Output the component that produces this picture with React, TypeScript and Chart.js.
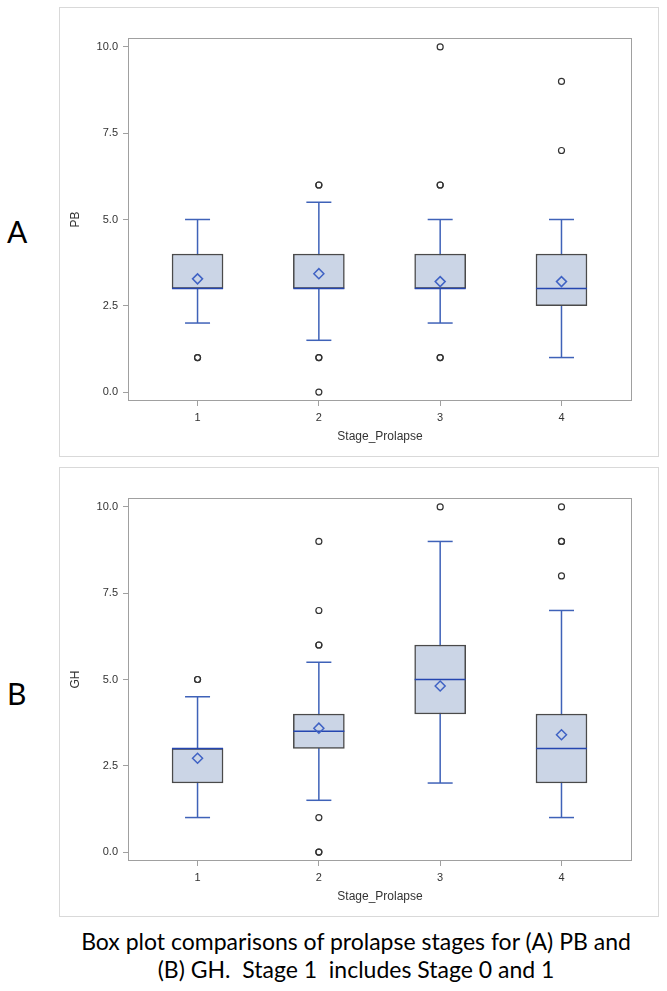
import React, { useEffect, useRef } from "react";
import { Chart, registerables } from "chart.js";

Chart.register(...registerables);

// ---- data ----
const STAGES = [1, 2, 3, 4];
const Y_TICKS = [0, 2.5, 5, 7.5, 10];

// Panel A: PB
const PB_WHISKER_LOW = [2, 1.5, 2, 1];
const PB_Q1 = [3, 3, 3, 2.5];
const PB_MEDIAN = [3, 3, 3, 3];
const PB_Q3 = [4, 4, 4, 4];
const PB_WHISKER_HIGH = [5, 5.5, 5, 5];
const PB_MEAN = [3.28, 3.43, 3.2, 3.2];
const PB_OUTLIERS = [[1, 1], [6, 6, 1, 1, 0], [10, 6, 6, 1, 1], [9, 7]];

// Panel B: GH
const GH_WHISKER_LOW = [1, 1.5, 2, 1];
const GH_Q1 = [2, 3, 4, 2];
const GH_MEDIAN = [3, 3.5, 5, 3];
const GH_Q3 = [3, 4, 6, 4];
const GH_WHISKER_HIGH = [4.5, 5.5, 9, 7];
const GH_MEAN = [2.72, 3.59, 4.81, 3.4];
const GH_OUTLIERS = [[5, 5], [9, 7, 6, 6, 1, 0, 0], [10], [10, 9, 9, 8]];

// ---- styles ----
const BOX_FILL = "#CBD5E6";
const BOX_EDGE = "#4A4A4A";
const WHISKER = "#3F62B8";
const MEDIAN = "#2546B0";
const MEAN = "#3F62C4";
const OUTLIER = "#333333";
const TEXT = "#333333";
const AXIS = "#A0A0A0";

const plotBorder = {
  id: "plotBorder",
  afterDraw(chart: any) {
    const { ctx, chartArea } = chart;
    const { left, top, right, bottom } = chartArea;
    ctx.save();
    ctx.strokeStyle = AXIS;
    ctx.lineWidth = 1;
    ctx.strokeRect(left - 0.5, top - 0.5, right - left + 1, bottom - top + 1);
    ctx.restore();
  },
};

function buildConfig(
  yTitle: string,
  lo: number[],
  q1: number[],
  med: number[],
  q3: number[],
  hi: number[],
  mean: number[],
  outliers: number[][]
): any {
  const whiskerData: any[] = [];
  STAGES.forEach((s, i) => {
    whiskerData.push({ x: s, y: lo[i] }, { x: s, y: hi[i] }, { x: s, y: null });
  });
  const capData: any[] = [];
  STAGES.forEach((s, i) => {
    capData.push({ x: s, y: lo[i] }, { x: s, y: hi[i] });
  });
  const outlierData: any[] = [];
  STAGES.forEach((s, i) => {
    outliers[i].forEach((v) => outlierData.push({ x: s, y: v }));
  });

  return {
    type: "bar",
    data: {
      datasets: [
        {
          type: "line",
          data: whiskerData,
          borderColor: WHISKER,
          borderWidth: 1.5,
          pointRadius: 0,
          spanGaps: false,
          order: 6,
        },
        {
          type: "bar",
          data: STAGES.map((s, i) => ({ x: s, y: [q1[i], q3[i]] })),
          backgroundColor: BOX_FILL,
          borderColor: BOX_EDGE,
          borderWidth: 1.5,
          borderSkipped: false,
          barThickness: 51,
          grouped: false,
          order: 5,
        },
        {
          type: "scatter",
          data: capData,
          pointStyle: "line",
          pointRadius: 12.5,
          pointBorderColor: WHISKER,
          pointBorderWidth: 1.5,
          order: 4,
        },
        {
          type: "scatter",
          data: STAGES.map((s, i) => ({ x: s, y: med[i] })),
          pointStyle: "line",
          pointRadius: 25.5,
          pointBorderColor: MEDIAN,
          pointBorderWidth: 1.5,
          order: 3,
        },
        {
          type: "scatter",
          data: STAGES.map((s, i) => ({ x: s, y: mean[i] })),
          pointStyle: "rectRot",
          pointRadius: 5,
          pointBackgroundColor: "rgba(0,0,0,0)",
          pointBorderColor: MEAN,
          pointBorderWidth: 1.5,
          order: 2,
        },
        {
          type: "scatter",
          data: outlierData,
          pointStyle: "circle",
          pointRadius: 3,
          pointBackgroundColor: "rgba(0,0,0,0)",
          pointBorderColor: OUTLIER,
          pointBorderWidth: 1.2,
          order: 1,
        },
      ],
    },
    options: {
      animation: false,
      responsive: false,
      devicePixelRatio: 1,
      layout: { padding: { left: 0, top: 31, right: 9, bottom: 0 } },
      plugins: { legend: { display: false }, tooltip: { enabled: false } },
      scales: {
        x: {
          type: "linear",
          offset: false,
          min: 0.435,
          max: 4.573,
          afterBuildTicks: (scale: any) => {
            scale.ticks = STAGES.map((v) => ({ value: v }));
          },
          afterFit: (scale: any) => {
            scale.height = 56;
          },
          grid: {
            display: true,
            offset: false,
            drawOnChartArea: false,
            drawTicks: true,
            tickLength: 6,
            color: AXIS,
          },
          border: { display: false },
          ticks: {
            padding: 5,
            color: TEXT,
            font: { family: "'Liberation Sans', Arial, sans-serif", size: 11 },
            callback: (v: any) => String(v),
          },
          title: {
            display: true,
            text: "Stage_Prolapse",
            color: TEXT,
            font: { family: "'Liberation Sans', Arial, sans-serif", size: 12 },
            padding: { top: 0, bottom: 12 },
          },
        },
        y: {
          type: "linear",
          min: -0.23,
          max: 10.23,
          afterBuildTicks: (scale: any) => {
            scale.ticks = Y_TICKS.map((v) => ({ value: v }));
          },
          afterFit: (scale: any) => {
            scale.width = 69;
          },
          grid: {
            display: true,
            drawOnChartArea: false,
            drawTicks: true,
            tickLength: 6,
            color: AXIS,
          },
          border: { display: false },
          ticks: {
            padding: 5,
            color: TEXT,
            font: { family: "'Liberation Sans', Arial, sans-serif", size: 11 },
            callback: (v: any) => Number(v).toFixed(1),
          },
          title: {
            display: true,
            text: yTitle,
            color: TEXT,
            font: { family: "'Liberation Sans', Arial, sans-serif", size: 12 },
            padding: { top: 8, bottom: 0 },
          },
        },
      },
    },
    plugins: [plotBorder],
  };
}

function Panel(props: { config: any; top: number }) {
  const ref = useRef<HTMLCanvasElement | null>(null);
  useEffect(() => {
    if (!ref.current) return;
    const chart = new Chart(ref.current, props.config);
    return () => chart.destroy();
  }, []);
  return (
    <div
      style={{
        position: "absolute",
        left: 59,
        top: props.top,
        width: 600,
        height: 450,
        boxSizing: "border-box",
        border: "1px solid #D9D9D9",
        background: "#fff",
      }}
    >
      <canvas ref={ref} width={598} height={448} style={{ display: "block", width: 598, height: 448 }} />
    </div>
  );
}

export default function App() {
  const configA = buildConfig("PB", PB_WHISKER_LOW, PB_Q1, PB_MEDIAN, PB_Q3, PB_WHISKER_HIGH, PB_MEAN, PB_OUTLIERS);
  const configB = buildConfig("GH", GH_WHISKER_LOW, GH_Q1, GH_MEDIAN, GH_Q3, GH_WHISKER_HIGH, GH_MEAN, GH_OUTLIERS);
  const letter: React.CSSProperties = {
    position: "absolute",
    left: 7,
    fontFamily: "Lato, 'Open Sans', sans-serif",
    fontSize: 30,
    lineHeight: "30px",
    color: "#000",
  };
  return (
    <div style={{ position: "absolute", left: 0, top: 0, width: 667, height: 991, background: "#fff", overflow: "hidden" }}>
      <div style={{ ...letter, top: 216 }}>A</div>
      <div style={{ ...letter, top: 678 }}>B</div>
      <Panel config={configA} top={7} />
      <Panel config={configB} top={467} />
      <div
        style={{
          position: "absolute",
          left: 40,
          top: 927,
          width: 632,
          textAlign: "center",
          fontFamily: "Lato, 'Open Sans', sans-serif",
          fontSize: 23,
          lineHeight: "28px",
          color: "#000",
          whiteSpace: "pre",
        }}
      >
        {"Box plot comparisons of prolapse stages for (A) PB and\n(B) GH.  Stage 1  includes Stage 0 and 1"}
      </div>
    </div>
  );
}
